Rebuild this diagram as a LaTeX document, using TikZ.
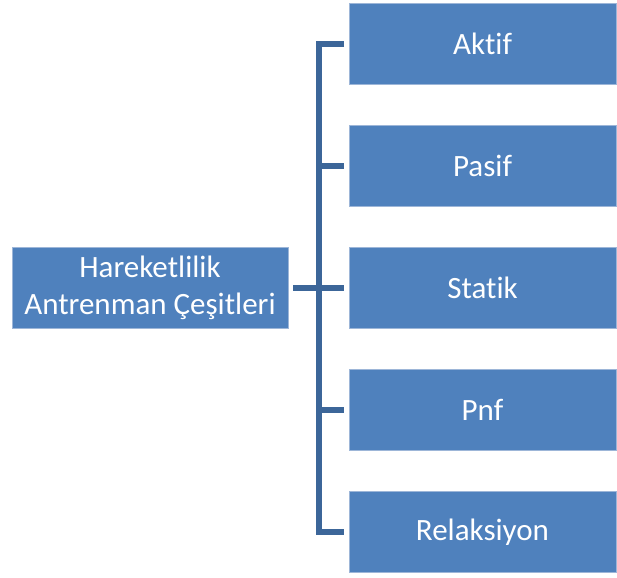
\documentclass[tikz,border=0pt]{standalone}
\usepackage{fontspec}
\setmainfont[Ligatures={NoCommon}]{Carlito}
\usetikzlibrary{calc}
\definecolor{boxfill}{HTML}{4F81BD}
\definecolor{boxline}{HTML}{9DB6D8}
\definecolor{conn}{HTML}{3C6699}
\tikzset{
  blbox/.style={draw=boxline, line width=1pt, fill=boxfill, text=white, font=\fontsize{31}{37}\selectfont, align=center, inner sep=0pt, outer sep=0pt},
  rbox/.style={blbox, minimum width=267pt, minimum height=81pt},
  conline/.style={draw=conn, line width=5.5pt}
}
\begin{document}
\begin{tikzpicture}[x=1pt,y=-1pt]
\useasboundingbox (0,0) rectangle (617,577);
\node[blbox, minimum width=276pt, minimum height=81pt] (root) at (150,288) {Hareketlilik\\Antrenman Çeşitleri};
\node[rbox] (a1) at (482.5,44) {Aktif};
\node[rbox] (a2) at (482.5,166) {Pasif};
\node[rbox] (a3) at (482.5,288) {Statik};
\node[rbox] (a4) at (482.5,410) {Pnf};
\node[rbox] (a5) at (482.5,532) {Relaksiyon};
\coordinate (top) at ($(a1.west)+(-30,0)$);
\coordinate (bot) at ($(a5.west)+(-30,0)$);
\draw[conline] ($(a1.west)+(-5,0)$) -- (top) -- (bot) -- ($(a5.west)+(-5,0)$);
\draw[conline] ($(a2.west)+(-30,0)$) -- ($(a2.west)+(-5,0)$);
\draw[conline] ($(a4.west)+(-30,0)$) -- ($(a4.west)+(-5,0)$);
\draw[conline] ($(root.east)+(5,0)$) -- ($(a3.west)+(-5,0)$);
\end{tikzpicture}
\end{document}
